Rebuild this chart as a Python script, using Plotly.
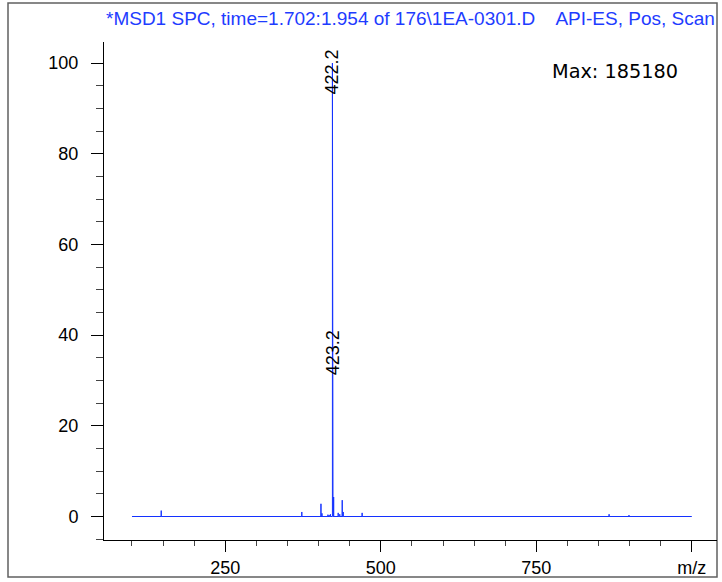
import plotly.graph_objects as go

# ---- data ----
mz_start, mz_end = 100, 1000
peak_mz = [147, 373, 403.8, 405.4, 415, 417, 419, 422.2, 423.2, 424.2, 431.5, 434, 438, 439.6, 470, 867, 899]
peak_int = [1.3, 1.0, 2.8, 0.7, 0.4, 0.3, 0.5, 100, 38, 4.3, 0.8, 0.5, 3.6, 1.0, 0.8, 0.5, 0.3]
labeled_peaks = [422.2, 423.2]
labeled_int = [100, 38]
y_major = [0, 20, 40, 60, 80, 100]
x_major = [250, 500, 750, 1000]
x_major_text = ["250", "500", "750", "m/z"]
x_minor = list(range(100, 1001, 50))
title_text = "*MSD1 SPC, time=1.702:1.954 of 176\\1EA-0301.D    API-ES, Pos, Scan"
max_text = "Max: 185180"

# build stick spectrum on a zero baseline
xs, ys = [mz_start], [0]
for m, h in zip(peak_mz, peak_int):
    xs += [m, m, m]
    ys += [0, h, 0]
xs.append(mz_end)
ys.append(0)

W, H = 722, 582
L, R, T, B = 104, 5, 42, 42
pw, ph = W - L - R, H - T - B

fig = go.Figure()
fig.add_trace(go.Scatter(x=xs, y=ys, mode="lines",
                         line=dict(color="#1432ff", width=1), hoverinfo="skip"))

font = "Liberation Sans, Arial, sans-serif"

for m, h, t in zip(labeled_peaks, labeled_int, ["422.2", "423.2"]):
    fig.add_annotation(x=m, y=h, text=t, textangle=-90, showarrow=False,
                       xanchor="center", yanchor="middle", yshift=-9,
                       font=dict(family=font, size=18, color="black"))

fig.add_annotation(xref="paper", yref="paper", x=(104 - L) / pw, y=(H - B - 18) / ph,
                   text=title_text, showarrow=False, xanchor="left", yanchor="middle",
                   font=dict(family=font, size=19, color="#1e3cff"))
fig.add_annotation(xref="paper", yref="paper", x=(550 - L) / pw, y=(H - B - 72) / ph,
                   text=max_text, showarrow=False, xanchor="left", yanchor="middle",
                   font=dict(family="DejaVu Sans, sans-serif", size=19.3, color="black"))

# outer frame
fig.add_shape(type="rect", xref="paper", yref="paper",
              x0=(8 - L) / pw, x1=(717 - L) / pw, y0=(H - B - 577) / ph, y1=(H - B - 3) / ph,
              line=dict(color="#606060", width=1.5), fillcolor="rgba(0,0,0,0)", layer="below")

fig.update_layout(
    width=W, height=H, margin=dict(l=L, r=R, t=T, b=B),
    plot_bgcolor="white", paper_bgcolor="white", showlegend=False,
    xaxis=dict(range=[55, 1040.5], showgrid=False, zeroline=False,
               showline=True, linecolor="black", linewidth=1,
               tickmode="array", tickvals=x_major, ticktext=x_major_text,
               ticks="outside", ticklen=11, tickcolor="black",
               tickfont=dict(family=font, size=18, color="black"),
               minor=dict(tickmode="array", tickvals=x_minor, ticks="outside",
                          ticklen=5, tickcolor="#444", showgrid=False)),
    yaxis=dict(range=[-5.18, 104.63], showgrid=False, zeroline=False,
               showline=True, linecolor="black", linewidth=1,
               tickmode="array", tickvals=y_major,
               ticks="outside", ticklen=12, tickcolor="black", ticklabelstandoff=9,
               tickfont=dict(family=font, size=18, color="black"),
               minor=dict(dtick=5, tick0=0, ticks="outside", ticklen=7,
                          tickcolor="#444", showgrid=False)),
)

fig.write_html("out.html", config={"displayModeBar": False},
               post_script="document.body.style.margin='0';")
